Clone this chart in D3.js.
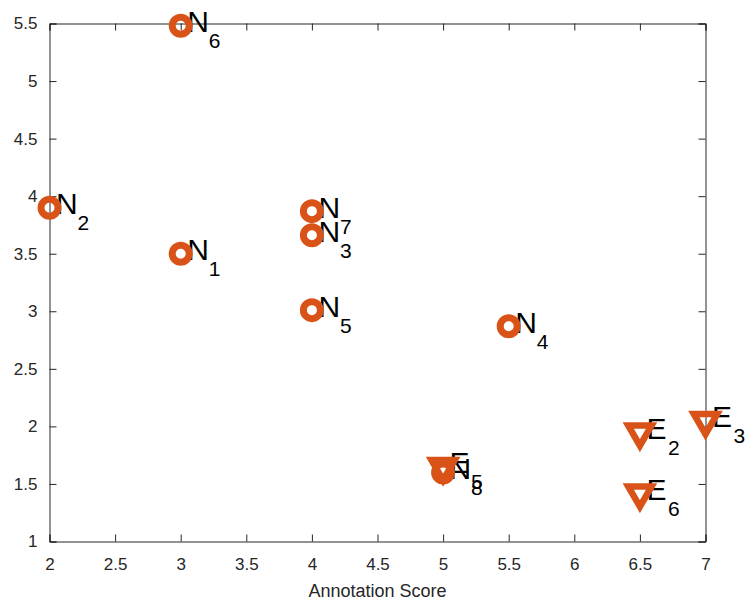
<!DOCTYPE html>
<html>
<head>
<meta charset="utf-8">
<script src="https://cdn.jsdelivr.net/npm/d3@7"></script>
<style>
  html, body { margin: 0; padding: 0; background: #fff; }
  svg { display: block; }
  text { font-family: "Liberation Sans", Arial, Helvetica, sans-serif; }
</style>
</head>
<body>
<svg id="chart" width="745" height="601"></svg>
<script>
// ---- Data ----
const nLetters = ["N", "N", "N", "N", "N", "N", "N", "N"];
const nSubs    = ["1", "2", "3", "4", "5", "6", "7", "8"];
const nX       = [3, 2, 4, 5.5, 4, 3, 4, 5];
const nY       = [3.5, 3.9, 3.66, 2.87, 3.01, 5.48, 3.87, 1.6];

const eLetters = ["E", "E", "E", "E"];
const eSubs    = ["2", "3", "5", "6"];
const eX       = [6.5, 7, 5, 6.5];
const eY       = [1.95, 2.05, 1.65, 1.42];

const xTicks = [2, 2.5, 3, 3.5, 4, 4.5, 5, 5.5, 6, 6.5, 7];
const yTicks = [1, 1.5, 2, 2.5, 3, 3.5, 4, 4.5, 5, 5.5];
const xLabel = "Annotation Score";

// ---- Layout ----
const W = 745, H = 601;
const margin = { left: 49.5, right: 39.5, top: 23.5, bottom: 59.5 };
const pw = W - margin.left - margin.right;
const ph = H - margin.top - margin.bottom;
const color = "#D95319";
const axisColor = "#262626";

const svg = d3.select("#chart");
const g = svg.append("g").attr("transform", `translate(${margin.left},${margin.top})`);

const x = d3.scaleLinear().domain([2, 7]).range([0, pw]);
const y = d3.scaleLinear().domain([1, 5.5]).range([ph, 0]);

const fmt = d => String(d);

// Bottom axis
const gx = g.append("g").attr("transform", `translate(0,${ph})`)
  .call(d3.axisBottom(x).tickValues(xTicks).tickFormat(fmt).tickSize(-7).tickPadding(16));
// Top axis
const gxt = g.append("g")
  .call(d3.axisTop(x).tickValues(xTicks).tickFormat("").tickSize(-7));
// Left axis
const gy = g.append("g")
  .call(d3.axisLeft(y).tickValues(yTicks).tickFormat(fmt).tickSize(-7).tickPadding(12));
// Right axis
const gyr = g.append("g").attr("transform", `translate(${pw},0)`)
  .call(d3.axisRight(y).tickValues(yTicks).tickFormat("").tickSize(-7));

[gx, gxt, gy, gyr].forEach(a => {
  a.select(".domain").attr("stroke", axisColor).attr("stroke-width", 1);
  a.selectAll(".tick line").attr("stroke", axisColor).attr("stroke-width", 1);
  a.selectAll(".tick text").attr("fill", axisColor).style("font-size", "17px")
    .style("font-family", "'Liberation Sans', Arial, sans-serif");
});

// X label
g.append("text")
  .attr("x", pw / 2).attr("y", ph + 55)
  .attr("text-anchor", "middle")
  .attr("fill", axisColor)
  .style("font-size", "18px")
  .text(xLabel);

// ---- Labels (drawn under markers) ----
function addLabels(xs, ys, letters, subs) {
  const lab = g.append("g");
  xs.forEach((xv, i) => {
    const px = x(xv) + 6.5, py = y(ys[i]);
    lab.append("text")
      .attr("x", px).attr("y", py + 6.5)
      .attr("fill", "#000")
      .style("font-size", "30px")
      .text(letters[i]);
    lab.append("text")
      .attr("x", px + 21.5).attr("y", py + 22.5)
      .attr("fill", "#000")
      .style("font-size", "21px")
      .text(subs[i]);
  });
}
addLabels(nX, nY, nLetters, nSubs);
addLabels(eX, eY, eLetters, eSubs);

// ---- Markers ----
g.append("g").selectAll("circle")
  .data(nX.map((v, i) => [v, nY[i]]))
  .join("circle")
  .attr("cx", d => x(d[0])).attr("cy", d => y(d[1]))
  .attr("r", 8.5)
  .attr("fill", "none")
  .attr("stroke", color)
  .attr("stroke-width", 7);

const r = 13.5;
const tri = `M${-r * 0.866},${-r / 2} L${r * 0.866},${-r / 2} L0,${r} Z`;
g.append("g").selectAll("path")
  .data(eX.map((v, i) => [v, eY[i]]))
  .join("path")
  .attr("transform", d => `translate(${x(d[0])},${y(d[1])})`)
  .attr("d", tri)
  .attr("fill", "none")
  .attr("stroke", color)
  .attr("stroke-width", 6.5)
  .attr("stroke-linejoin", "miter");
</script>
</body>
</html>
